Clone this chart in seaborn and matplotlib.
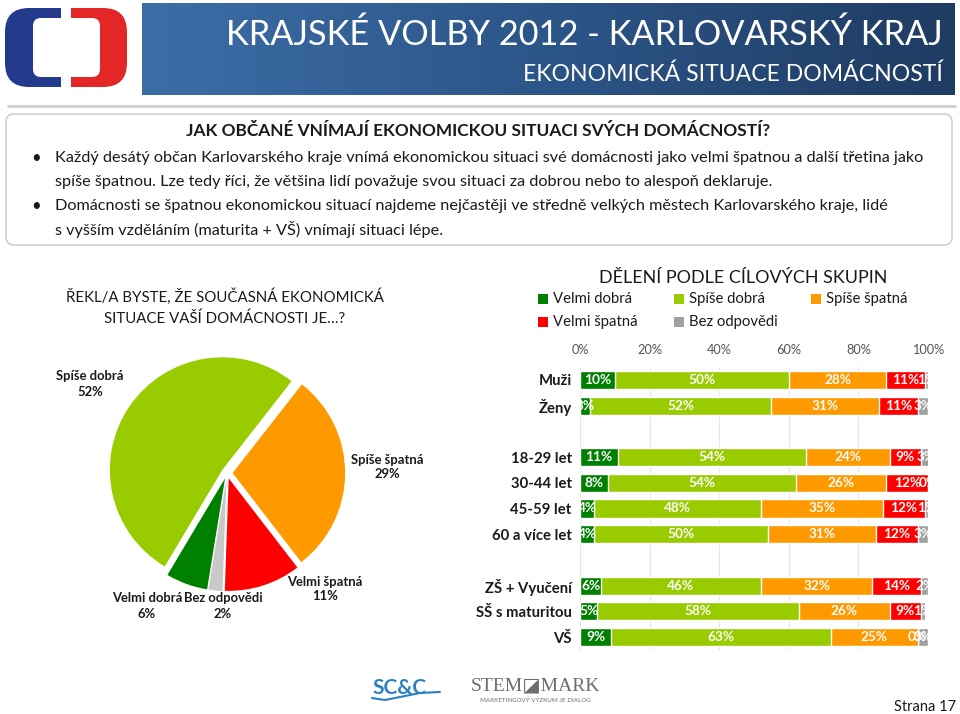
import numpy as np
import pandas as pd
import matplotlib.pyplot as plt
import seaborn as sns
from matplotlib.patches import FancyBboxPatch, Rectangle
from matplotlib.colors import LinearSegmentedColormap

sns.set_theme(style="white")
plt.rcParams['font.family'] = ['Lato', 'DejaVu Sans']

# kategorie odpovedi
answers = ["Velmi dobrá", "Spíše dobrá", "Spíše špatná", "Velmi špatná", "Bez odpovědi"]
bar_colors = ["#008000", "#99CC00", "#FF9900", "#FF0000", "#A0A0A0"]

# kolac - celkem
pie_values = [6, 52, 29, 11, 2]
pie_colors = ["#008000", "#99CC00", "#FF9900", "#FF0000", "#C8C8C8"]
pie_order = [1, 0, 4, 3, 2]   # proti smeru hodin od 52 stupnu

# skupiny
groups = ["Muži", "Ženy", "18-29 let", "30-44 let", "45-59 let", "60 a více let",
          "ZŠ + Vyučení", "SŠ s maturitou", "VŠ"]
velmi_dobra = [10, 3, 11, 8, 4, 4, 6, 5, 9]
spise_dobra = [50, 52, 54, 54, 48, 50, 46, 58, 63]
spise_spatna = [28, 31, 24, 26, 35, 31, 32, 26, 25]
velmi_spatna = [11, 11, 9, 12, 12, 12, 14, 9, 0]
bez_odpovedi = [1, 3, 3, 0, 1, 3, 2, 1, 3]
row_order = ["Muži", "Ženy", "", "18-29 let", "30-44 let", "45-59 let", "60 a více let",
             " ", "ZŠ + Vyučení", "SŠ s maturitou", "VŠ"]

W, H = 960, 714
fig = plt.figure(figsize=(W / 100, H / 100), dpi=100)
renderer = fig.canvas.get_renderer()


def box(x0, y0, x1, y1):
    return [x0 / W, 1 - y1 / H, (x1 - x0) / W, (y1 - y0) / H]


def fit(t, width):
    # prizpusobi velikost pisma sirce v pixelech
    w = t.get_window_extent(renderer).width
    t.set_fontsize(t.get_fontsize() * width / w)
    return t.get_fontsize()


def size_for(s, width, **kw):
    t = bg.text(0, 0, s, fontsize=10, **kw)
    f = fit(t, width)
    t.remove()
    return f


# podklad v pixelech
bg = fig.add_axes([0, 0, 1, 1])
bg.set_xlim(0, W)
bg.set_ylim(H, 0)
bg.axis("off")

# hlavicka
grad = np.linspace(0, 1, 256).reshape(1, -1)
cm = LinearSegmentedColormap.from_list("hdr", ["#3c6ea6", "#2c5588", "#1f3c62"])
bg.imshow(grad, cmap=cm, extent=[142, 955, 95, 3], aspect="auto", zorder=1)
t = bg.text(943, 35, "KRAJSKÉ VOLBY 2012 - KARLOVARSKÝ KRAJ", color="white",
            fontsize=27, ha="right", va="center", zorder=2)
fit(t, 718)
t = bg.text(943, 74, "EKONOMICKÁ SITUACE DOMÁCNOSTÍ", color="white",
            fontsize=17, ha="right", va="center", zorder=2)
fit(t, 419)

# logo CT
bg.add_patch(FancyBboxPatch((5, 8), 56, 79, boxstyle="round,pad=0,rounding_size=24",
                            fc="#243a8c", ec="none", zorder=2))
bg.add_patch(FancyBboxPatch((71, 8), 56, 79, boxstyle="round,pad=0,rounding_size=24",
                            fc="#e32626", ec="none", zorder=2))
bg.add_patch(Rectangle((40, 8), 21, 79, fc="#243a8c", ec="none", zorder=2))
bg.add_patch(Rectangle((71, 8), 21, 79, fc="#e32626", ec="none", zorder=2))
bg.add_patch(FancyBboxPatch((33, 18), 67, 59, boxstyle="round,pad=0,rounding_size=8",
                            fc="white", ec="none", zorder=3))

bg.plot([8, 955], [106, 106], color="#cfcfcf", lw=2, zorder=1)

# textovy box
bg.add_patch(FancyBboxPatch((6, 114), 946, 131, boxstyle="round,pad=0,rounding_size=8",
                            fc="white", ec="#d0d0d0", lw=1.2, zorder=1))
t = bg.text(478, 131, "JAK OBČANÉ VNÍMAJÍ EKONOMICKOU SITUACI SVÝCH DOMÁCNOSTÍ?",
            fontsize=13, fontweight="bold", ha="center", va="center", color="#1a1a1a")
fit(t, 584)
lines = [
    (158, True, "Každý desátý občan Karlovarského kraje vnímá ekonomickou situaci své domácnosti jako velmi špatnou a další třetina jako"),
    (182, False, "spíše špatnou. Lze tedy říci, že většina lidí považuje svou situaci za dobrou nebo to alespoň deklaruje."),
    (206, True, "Domácnosti se špatnou ekonomickou situací najdeme nejčastěji ve středně velkých městech Karlovarského kraje, lidé"),
    (230, False, "s vyšším vzděláním (maturita + VŠ) vnímají situaci lépe."),
]
body_size = size_for(lines[0][2], 868)
for y, bullet, s in lines:
    if bullet:
        bg.text(36, y, "•", fontsize=12, ha="center", va="center", color="#1a1a1a")
    bg.text(55, y, s, fontsize=body_size, ha="left", va="center", color="#1a1a1a")

# nadpisy grafu
ls = size_for("ŘEKL/A BYSTE, ŽE SOUČASNÁ EKONOMICKÁ", 315)
bg.text(225, 297, "ŘEKL/A BYSTE, ŽE SOUČASNÁ EKONOMICKÁ", fontsize=ls,
        ha="center", va="center", color="#1a1a1a")
bg.text(225, 319, "SITUACE VAŠÍ DOMÁCNOSTI JE…?", fontsize=ls,
        ha="center", va="center", color="#1a1a1a")
t = bg.text(743, 278, "DĚLENÍ PODLE CÍLOVÝCH SKUPIN", fontsize=15,
            ha="center", va="center", color="#1a1a1a")
fit(t, 288)

# legenda
leg_pos = [(543, 299), (679, 299), (816, 299), (543, 322), (679, 322)]
leg_size = size_for(answers[0], 77) * 1.03
for (x, y), name, c in zip(leg_pos, answers, bar_colors):
    bg.add_patch(Rectangle((x - 5, y - 5), 10, 10, fc=c, ec="none"))
    bg.text(x + 10, y, name, fontsize=leg_size, ha="left", va="center", color="#1a1a1a")

# kolac
axp = fig.add_axes(box(92, 338, 362, 608))
axp.pie([pie_values[i] for i in pie_order],
        colors=[pie_colors[i] for i in pie_order],
        startangle=52, counterclock=True, explode=[0.05] * 5,
        wedgeprops=dict(linewidth=0))
axp.set_xlim(-1.2, 1.2)
axp.set_ylim(-1.2, 1.2)
axp.set_aspect("equal")

pie_size = size_for("Bez odpovědi", 76, fontweight="bold") * 1.04
pie_labels = [(147, 606), (90, 384), (387, 467), (325, 589), (223, 606)]
for (x, y), name, v in zip(pie_labels, answers, pie_values):
    bg.text(x, y, f"{name}\n{v}%", fontsize=pie_size, fontweight="bold",
            ha="center", va="center", linespacing=1.3, color="#1a1a1a")

# skladane pruhy
df = pd.DataFrame({"skupina": groups, "Velmi dobrá": velmi_dobra,
                   "Spíše dobrá": spise_dobra, "Spíše špatná": spise_spatna,
                   "Velmi špatná": velmi_spatna, "Bez odpovědi": bez_odpovedi})
cum = df[answers].cumsum(axis=1)

axb = fig.add_axes(box(580, 367, 928, 650))
for i in reversed(range(len(answers))):
    sns.barplot(x=cum[answers[i]], y=df["skupina"], order=row_order, orient="y",
                color=bar_colors[i], saturation=1, width=0.7, errorbar=None, ax=axb)

val_size = size_for("50%", 24, fontweight="bold") * 1.12
for _, row in df.iterrows():
    yi = row_order.index(row["skupina"])
    left = 0
    for a in answers:
        v = row[a]
        axb.text(left + v / 2, yi, f"{v}%", color="white", fontsize=val_size,
                 fontweight="bold", ha="center", va="center")
        left += v

cat_size = size_for("SŠ s maturitou", 92, fontweight="bold") * 1.04
tick_size = size_for("100%", 30) * 1.08

axb.set_xlim(0, 100)
axb.set_ylim(10.5, -0.5)
axb.set_xlabel("")
axb.set_ylabel("")
axb.xaxis.tick_top()
axb.set_xticks(range(0, 101, 20))
axb.set_xticklabels([f"{t}%" for t in range(0, 101, 20)], fontsize=tick_size, color="#555555")
axb.tick_params(axis="both", length=0)
axb.tick_params(axis="x", pad=8)
axb.tick_params(axis="y", pad=6)
for lab in axb.get_yticklabels():
    lab.set_fontweight("bold")
    lab.set_fontsize(cat_size)
    lab.set_color("#1a1a1a")
axb.grid(axis="x", color="#e6e6e6", lw=0.8)
axb.set_axisbelow(True)
for s in axb.spines.values():
    s.set_visible(False)

# paticka
bg.text(372, 688, "SC&C", fontsize=15, fontweight="bold", color="#2b80c5",
        ha="left", va="center")
bg.plot([372, 385, 400, 420, 440], [698, 700, 697, 693, 692], color="#2b80c5", lw=1.5)
bg.text(535, 686, "STEM◪MARK", fontsize=14, color="#6d6d6d", ha="center", va="center",
        family=["Liberation Serif", "DejaVu Sans"])
bg.text(535, 700, "MARKETINGOVÝ VÝZKUM JE DIALOG", fontsize=4.5, color="#6d6d6d",
        ha="center", va="center")
t = bg.text(956, 707, "Strana 17", fontsize=11.5, ha="right", va="center", color="#1a1a1a")
fit(t, 62)

fig.savefig("out.png", dpi=100)
